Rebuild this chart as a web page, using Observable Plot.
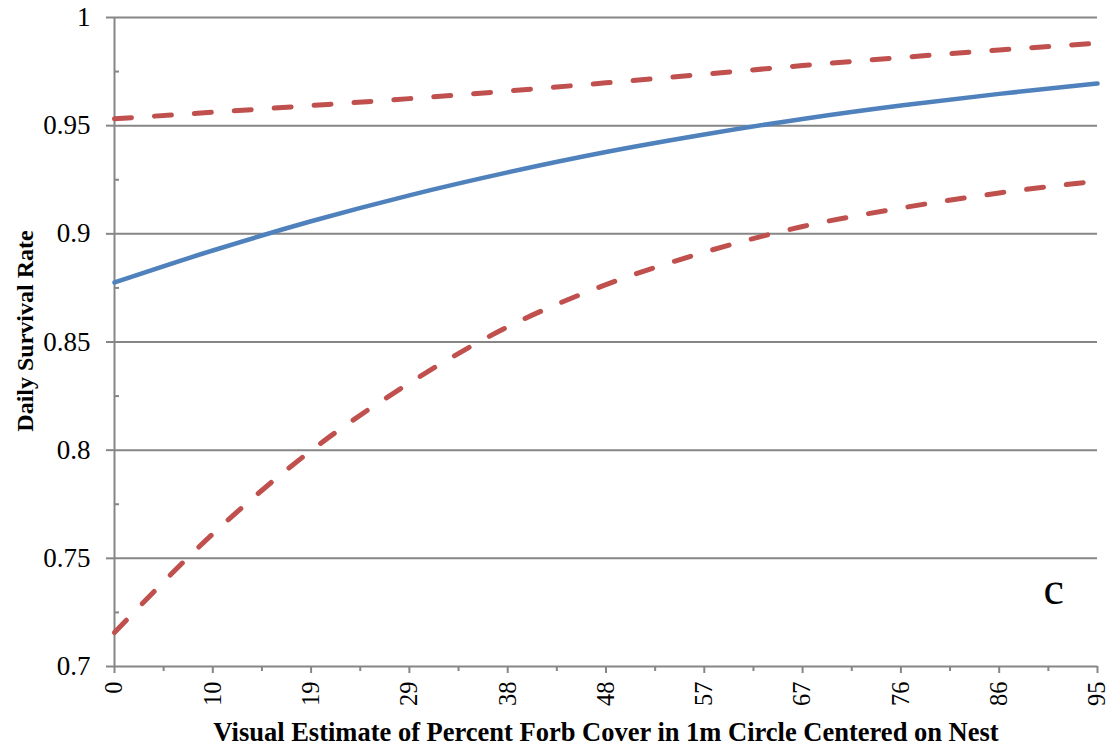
<!DOCTYPE html>
<html><head><meta charset="utf-8">
<script src="https://cdn.jsdelivr.net/npm/d3@7"></script>
<script src="https://cdn.jsdelivr.net/npm/@observablehq/plot@0.6"></script>
<style>body{margin:0;background:#fff}#chart svg{display:block}#chart svg text{font-family:'Liberation Serif','Times New Roman',serif !important}</style>
</head><body><div id="chart"></div>
<script>
// ---- data ----
const xValues = [0, 9.5, 19, 28.5, 38, 47.5, 57, 66.5, 76, 85.5, 95];
const xTickLabels = ["0", "10", "19", "29", "38", "48", "57", "67", "76", "86", "95"];
const xMinorTicks = [4.75, 14.25, 23.75, 33.25, 42.75, 52.25, 61.75, 71.25, 80.75, 90.25];
const estimate = [0.8775, 0.8923, 0.9058, 0.9178, 0.9284, 0.9378, 0.9459, 0.9531, 0.9593, 0.9647, 0.9695];
const upperCI  = [0.9532, 0.9562, 0.9593, 0.9625, 0.9660, 0.9698, 0.9738, 0.9778, 0.9815, 0.9850, 0.9881];
const lowerCI  = [0.7157, 0.7613, 0.7998, 0.8310, 0.8570, 0.8765, 0.8915, 0.9034, 0.9119, 0.9189, 0.9244];
const yTicks = [0.7, 0.75, 0.8, 0.85, 0.9, 0.95, 1];
const yMinorTicks = [0.725, 0.775, 0.825, 0.875, 0.925, 0.975];
const xTitle = "Visual Estimate of Percent Forb Cover in 1m Circle Centered on Nest";
const yTitle = "Daily Survival Rate";
const panelLabel = "c";

// ---- tables ----
const toRows = (ys) => xValues.map((x, i) => ({x, y: ys[i]}));
const estRows = toRows(estimate);
const upRows = toRows(upperCI);
const lowRows = toRows(lowerCI);

const W = 1110, H = 751, mL = 114, mR = 13, mT = 17, mB = 85;
const grid = "#868686", red = "#C0504D", blue = "#4F81BD";
const serif = "'Liberation Serif', 'Times New Roman', serif";

const chart = Plot.plot({
  width: W, height: H,
  marginLeft: mL, marginRight: mR, marginTop: mT, marginBottom: mB,
  style: {fontFamily: serif, background: "#fff", color: "#000"},
  x: {domain: [0, 95]},
  y: {domain: [0.7, 1]},
  marks: [
    Plot.ruleY(yTicks, {stroke: grid, strokeWidth: 2}),
    Plot.ruleX([0], {stroke: grid, strokeWidth: 2}),
    Plot.axisY({ticks: yTicks, tickSize: 8, tickPadding: 16, stroke: grid, strokeWidth: 2,
      fill: "#000", fontSize: 27, fontFamily: serif, tickFormat: d => String(+d.toFixed(2)), label: null}),
    Plot.tickY(yMinorTicks, {stroke: grid, strokeWidth: 2, insetRight: (W - mL - mR) - 5}),
    Plot.axisX({ticks: xValues, tickSize: 7, tickPadding: 8, tickRotate: -90, stroke: grid, strokeWidth: 2,
      fill: "#000", fontSize: 24.5, fontFamily: serif, tickFormat: d => xTickLabels[xValues.indexOf(d)], label: null}),
    Plot.axisX({ticks: xMinorTicks, tickSize: 5, stroke: grid, strokeWidth: 2, text: null, label: null}),
    Plot.line(upRows, {x: "x", y: "y", stroke: red, strokeWidth: 5, strokeDasharray: "17,23",
      strokeLinecap: "round", curve: "monotone-x"}),
    Plot.line(lowRows, {x: "x", y: "y", stroke: red, strokeWidth: 5, strokeDasharray: "17,23",
      strokeLinecap: "round", curve: "monotone-x"}),
    Plot.line(estRows, {x: "x", y: "y", stroke: blue, strokeWidth: 4.5, curve: "monotone-x"}),
    Plot.text([xTitle], {frameAnchor: "bottom", dy: 66, textAnchor: "middle", lineAnchor: "middle",
      fontWeight: "bold", fontSize: 26.5, fontFamily: serif, fill: "#000"}),
    Plot.text([yTitle], {frameAnchor: "left", dx: -89, dy: -11, rotate: -90, textAnchor: "middle", lineAnchor: "middle",
      fontWeight: "bold", fontSize: 24, fontFamily: serif, fill: "#000"}),
    Plot.text([panelLabel], {frameAnchor: "bottom-right", dx: -54, dy: -77, textAnchor: "start", lineAnchor: "middle",
      fontSize: 46, fontFamily: serif, fill: "#000"})
  ]
});
document.getElementById("chart").appendChild(chart);
</script>
</body></html>
